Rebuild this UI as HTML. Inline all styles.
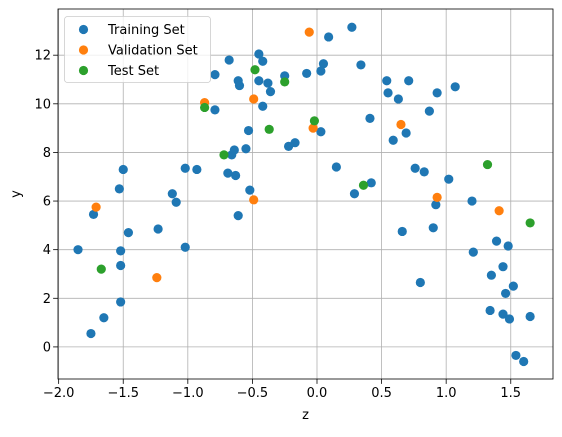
<!DOCTYPE html>
<html><head><meta charset="utf-8"><style>
body{margin:0;background:#fff}
text{font-family:"DejaVu Sans","Liberation Sans",sans-serif;font-size:13px;fill:#000}
</style></head><body>
<svg id="chart" width="562" height="432" xmlns="http://www.w3.org/2000/svg">
<rect width="562" height="432" fill="#fff"/>
<g id="grid"></g><g id="marks"></g><g id="axes"></g><g id="legend"></g>
</svg>
<script>
const trainZ=[-1.85,-1.75,-1.73,-1.65,-1.53,-1.5,-1.52,-1.52,-1.52,-1.46,-1.23,-1.12,-1.09,-1.02,-1.02,-0.93,-0.79,-0.79,-0.68,-0.69,-0.66,-0.64,-0.63,-0.61,-0.60,-0.61,-0.55,-0.53,-0.52,-0.45,-0.45,-0.42,-0.42,-0.38,-0.36,-0.25,-0.22,-0.17,-0.08,0.03,0.05,0.09,0.27,0.34,0.03,0.15,0.41,0.42,0.29,0.54,0.55,0.63,0.71,0.87,0.93,1.07,0.59,0.69,0.76,0.83,1.02,0.92,1.2,0.66,0.9,0.8,1.39,1.48,1.21,1.44,1.35,1.52,1.46,1.34,1.44,1.49,1.65,1.54,1.6];
const trainY=[4.0,0.55,5.45,1.2,6.5,7.3,3.95,3.35,1.85,4.7,4.85,6.3,5.95,7.35,4.1,7.3,11.2,9.75,11.8,7.15,7.9,8.1,7.05,10.95,10.75,5.4,8.15,8.9,6.45,12.05,10.95,11.75,9.9,10.85,10.5,11.15,8.25,8.4,11.25,11.35,11.65,12.75,13.15,11.6,8.85,7.4,9.4,6.75,6.3,10.95,10.45,10.2,10.95,9.7,10.45,10.7,8.5,8.8,7.35,7.2,6.9,5.85,6.0,4.75,4.9,2.65,4.35,4.15,3.9,3.3,2.95,2.5,2.2,1.5,1.35,1.15,1.25,-0.35,-0.6];
const valZ=[-1.71,-1.24,-0.87,-0.49,-0.49,-0.06,-0.03,0.65,0.93,1.41];
const valY=[5.75,2.85,10.05,10.2,6.05,12.95,9.0,9.15,6.15,5.6];
const testZ=[-1.67,-0.87,-0.72,-0.48,-0.37,-0.25,-0.02,0.36,1.32,1.65];
const testY=[3.2,9.85,7.9,11.4,8.95,10.9,9.3,6.65,7.5,5.1];
const xTicks=[-2.0,-1.5,-1.0,-0.5,0.0,0.5,1.0,1.5];
const yTicks=[0,2,4,6,8,10,12];
const seriesNames=["Training Set","Validation Set","Test Set"];
const seriesColors=["#1f77b4","#ff7f0e","#2ca02c"];

const L=58,R=553,T=9,B=379;
const xMin=-2.005,xMax=1.827,yMin=-1.32,yMax=13.9;
const sx=v=>L+(v-xMin)/(xMax-xMin)*(R-L);
const sy=v=>B-(v-yMin)/(yMax-yMin)*(B-T);
const NS="http://www.w3.org/2000/svg";
function mk(tag,attrs,parent){const e=document.createElementNS(NS,tag);for(const k in attrs)e.setAttribute(k,attrs[k]);parent.appendChild(e);return e;}
const grid=document.getElementById('grid'),marks=document.getElementById('marks'),axes=document.getElementById('axes'),legend=document.getElementById('legend');

xTicks.forEach(t=>{
  const x=sx(t);
  const g=mk('line',{x1:x,x2:x,y1:T,y2:B,stroke:'#b0b0b0','stroke-width':0.8},grid);
  
  
  const tk=mk('line',{x1:x,x2:x,y1:B,y2:B+4.9,stroke:'#000','stroke-width':0.8},axes);
  
  
  const lb=mk('text',{x:x,y:B+18,'text-anchor':'middle'},axes);
  lb.textContent=t.toFixed(1).replace('-','\u2212');
  
  
});
yTicks.forEach(t=>{
  const y=sy(t);
  const g=mk('line',{x1:L,x2:R,y1:y,y2:y,stroke:'#b0b0b0','stroke-width':0.8},grid);
  
  
  const tk=mk('line',{x1:L-4.9,x2:L,y1:y,y2:y,stroke:'#000','stroke-width':0.8},axes);
  
  
  const lb=mk('text',{x:L-7,y:y+4.5,'text-anchor':'end'},axes);
  lb.textContent=String(t);
  
  
});
const frame=mk('rect',{x:L,y:T,width:R-L,height:B-T,fill:'none',stroke:'#000','stroke-width':0.8},axes);


const xt=mk('text',{x:(L+R)/2,y:419,'text-anchor':'middle'},axes);
xt.textContent='z';


const yt=mk('text',{x:0,y:0,'text-anchor':'middle',transform:`translate(20,${(T+B)/2}) rotate(-90)`},axes);
yt.textContent='y';



const sets=[[trainZ,trainY],[valZ,valY],[testZ,testY]];
const pointNames=['training-point','validation-point','test-point'];
sets.forEach((s,i)=>{
  s[0].forEach((z,j)=>{
    const c=mk('circle',{cx:sx(z),cy:sy(s[1][j]),r:4.6,fill:seriesColors[i]},marks);
    
    
  });
});

const lbox=mk('rect',{x:64.5,y:16.5,width:146,height:66,rx:3,fill:'#fff','fill-opacity':0.8,stroke:'#ccc','stroke-width':0.8},legend);


seriesNames.forEach((n,i)=>{
  const y=29.5+i*20.5;
  const m=mk('circle',{cx:83.5,cy:y,r:4.6,fill:seriesColors[i]},legend);
  
  
  const t=mk('text',{x:108,y:y+4.6},legend);
  t.textContent=n;
  
  
});
</script>
</body></html>
